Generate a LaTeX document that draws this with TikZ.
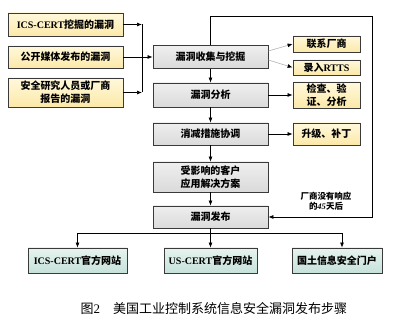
\documentclass[tikz,border=0pt]{standalone}
\usepackage{fontspec}
\setmainfont{Liberation Serif}
\newfontfamily\cjk{Noto Sans CJK SC}
\newcommand{\zh}[1]{{\cjk #1}}
\usetikzlibrary{arrows.meta}

\definecolor{srcTop}{HTML}{FFF8DC}
\definecolor{srcBot}{HTML}{FCE9A8}
\definecolor{stepTop}{HTML}{EFEFEF}
\definecolor{stepBot}{HTML}{DADADA}
\definecolor{webTop}{HTML}{E6F3EF}
\definecolor{webBot}{HTML}{C6E2DA}
\definecolor{edge}{HTML}{3A3A3A}

\begin{document}
\begin{tikzpicture}[x=1pt, y=-1pt,
  src/.style={rectangle, draw=edge, line width=0.8pt, top color=srcTop, bottom color=srcBot,
              minimum width=#1, inner sep=1pt, align=center,
              font=\fontsize{10}{13}\selectfont\bfseries},
  src/.default=115pt,
  stepbox/.style={rectangle, draw=edge, line width=0.8pt, top color=stepTop, bottom color=stepBot,
                  minimum width=115pt, inner sep=1pt, align=center,
                  font=\fontsize{10}{13}\selectfont\bfseries},
  web/.style={rectangle, draw=edge, line width=0.8pt, top color=webTop, bottom color=webBot,
              minimum height=25pt, inner sep=1pt, align=center,
              font=\fontsize{10}{13}\selectfont\bfseries},
  arr/.style={-{Latex[length=5pt, width=4pt]}, line width=0.7pt, black},
  garr/.style={-{Latex[length=5pt, width=4pt, color=black]}, line width=0.6pt, gray!60},
  lbl/.style={font=\fontsize{8.5}{10}\selectfont\bfseries, align=center}
]
\useasboundingbox (0,0) rectangle (400,328);

% ---- sources (left) ----
\node[src, minimum height=23pt] (s-ics)   at (65.5, 24.5) {ICS-CERT\zh{挖掘的漏洞}};
\node[src, minimum height=22pt] (s-media) at (65.5, 57)   {\zh{公开媒体发布的漏洞}};
\node[src, minimum height=29pt] (s-res)   at (65.5, 92.5) {\zh{安全研究人员或厂商}\\\zh{报告的漏洞}};
\coordinate (j-top) at (142, 24.5);
\coordinate (j-bot) at (142, 92.5);

% ---- steps (middle) ----
\node[stepbox, minimum height=23pt] (st-col) at (210.5, 57)  {\zh{漏洞收集与挖掘}};
\node[stepbox, minimum height=24pt] (st-ana) at (210.5, 95)  {\zh{漏洞分析}};
\node[stepbox, minimum height=22pt] (st-mit) at (210.5, 134) {\zh{消减措施协调}};
\node[stepbox, minimum height=30pt] (st-cus) at (210.5, 177) {\zh{受影响的客户}\\\zh{应用解决方案}};
\node[stepbox, minimum height=22pt] (st-pub) at (210.5, 217) {\zh{漏洞发布}};

% ---- actions (right) ----
\node[src=67pt, minimum height=16pt] (a-ven) at (326.5, 44)   {\zh{联系厂商}};
\node[src=67pt, minimum height=15pt] (a-rts) at (326.5, 67.5) {\zh{录入}RTTS};
\node[src=67pt, minimum height=26pt] (a-chk) at (326.5, 95)   {\zh{检查、验}\\\zh{证、分析}};
\node[src=67pt, minimum height=22pt] (a-pat) at (326.5, 134)  {\zh{升级、补丁}};

% ---- outlets (bottom) ----
\node[web, minimum width=99pt] (w-ics) at (77.5, 260.5)  {ICS-CERT\zh{官方网站}};
\node[web, minimum width=93pt] (w-us)  at (210.5, 260.5) {US-CERT\zh{官方网站}};
\node[web, minimum width=90pt] (w-dhs) at (337, 260.5)   {\zh{国土信息安全门户}};

% ---- merge of sources ----
\draw[arr] (s-ics) -- (j-top);
\draw[arr] (s-res) -- (j-bot);
\draw[line width=0.7pt] (j-top) -- (j-bot);
\draw[arr] (s-media) -- (st-col);

% ---- main chain ----
\draw[arr] (st-col) -- (st-ana);
\draw[arr] (st-ana) -- (st-mit);
\draw[arr] (st-mit) -- (st-cus);
\draw[arr] (st-cus) -- (st-pub);

% ---- side actions ----
\draw[garr] ([yshift=6pt]st-col.east) -- (a-ven.west);
\draw[garr] ([yshift=-3pt]st-col.east) -- (a-rts.west);
\draw[arr] (st-ana) -- (a-chk);
\draw[arr] (st-mit) -- (a-pat);

% ---- feedback: no vendor response ----
\coordinate (fb-a) at (210.5, 16);
\coordinate (fb-b) at (372, 16);
\coordinate (fb-c) at (372, 217);
\draw[arr] (st-col.north) -- (fb-a) -- (fb-b) -- (fb-c) -- (st-pub.east);
\node[lbl] (fb-lbl) at (326, 201) {\zh{厂商没有响应}\\\zh{的}\textit{45}\zh{天后}};

% ---- distribution ----
\coordinate (d-mid) at (210.5, 233);
\draw[line width=0.7pt] (st-pub.south) -- (d-mid);
\draw[arr] (d-mid) -| (w-ics.north);
\draw[arr] (d-mid) -- (w-us.north);
\draw[arr] (d-mid) -| ([xshift=5pt]w-dhs.north);

% ---- caption ----
\node[font=\fontsize{13}{15}\selectfont] (cap) at (214, 309)
  {\zh{图}2\quad\zh{美国工业控制系统信息安全漏洞发布步骤}};
\end{tikzpicture}
\end{document}
